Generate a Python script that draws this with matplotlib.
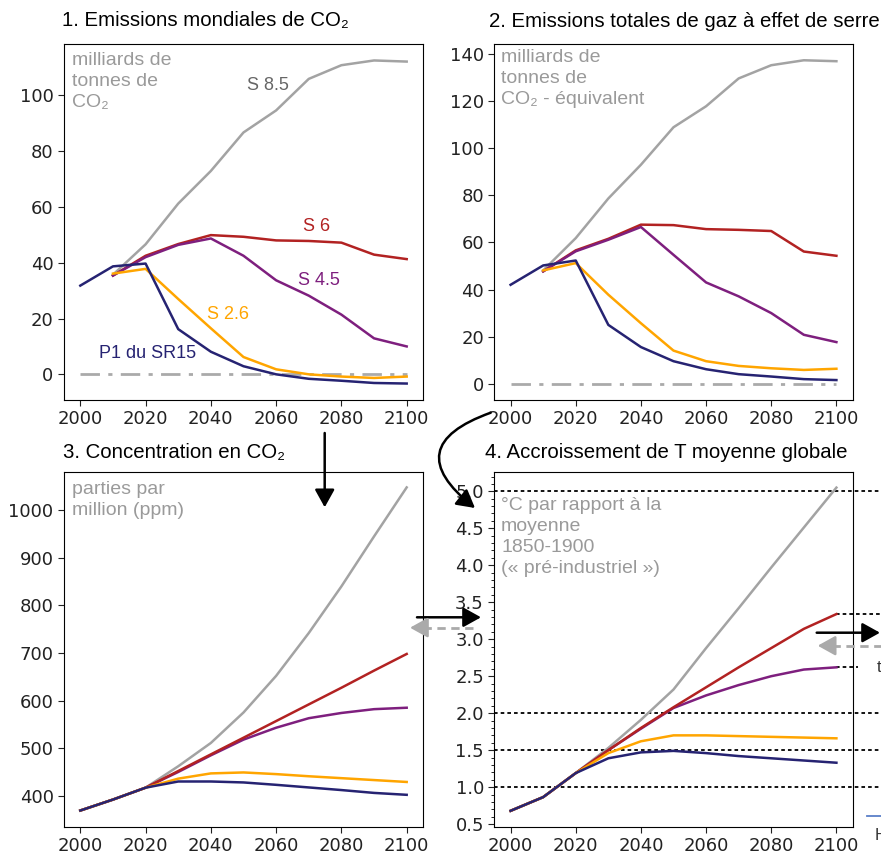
"""Scénarios d'émissions, concentration en CO2 et réchauffement : 4 panneaux."""

import matplotlib

matplotlib.use("Agg")
import matplotlib.pyplot as plt
from matplotlib.lines import Line2D
from matplotlib.patches import FancyArrowPatch
from matplotlib.ticker import MultipleLocator


W, H = 881, 857
SANS = ["Liberation Sans", "DejaVu Sans"]
plt.rcParams["font.family"] = ["DejaVu Sans"]

years = [2000, 2010, 2020, 2030, 2040, 2050, 2060, 2070, 2080, 2090, 2100]
years_scen = years[1:]

# 1. émissions de CO2 (GtCO2)
co2_p1 = [31.8, 38.7, 39.7, 16.2, 8.1, 2.9, 0.0, -1.6, -2.3, -3.1, -3.3]
co2_s26 = [36.1, 37.8, 27.0, 16.5, 6.2, 1.8, 0.0, -0.8, -1.3, -0.8]
co2_s45 = [35.4, 42.0, 46.4, 48.7, 42.5, 33.7, 28.2, 21.4, 12.9, 10.0]
co2_s6 = [35.4, 42.5, 46.7, 49.9, 49.3, 48.0, 47.8, 47.2, 42.9, 41.3]
co2_s85 = [35.7, 46.6, 61.2, 72.9, 86.7, 94.6, 105.9, 110.8, 112.5, 112.1]

# 2. émissions totales de GES (GtCO2-eq)
ghg_p1 = [42.0, 50.2, 52.3, 25.0, 15.6, 9.6, 6.2, 4.1, 3.1, 2.0, 1.6]
ghg_s26 = [48.1, 51.2, 37.8, 25.7, 14.1, 9.6, 7.6, 6.6, 5.9, 6.4]
ghg_s45 = [47.7, 56.2, 61.1, 66.5, 54.7, 43.0, 37.1, 30.0, 20.8, 17.7]
ghg_s6 = [47.7, 56.6, 61.5, 67.5, 67.3, 65.6, 65.3, 64.8, 56.1, 54.3]
ghg_s85 = [48.1, 61.8, 78.6, 92.9, 108.8, 117.7, 129.5, 135.1, 137.2, 136.8]

# 3. concentration en CO2 (ppm)
ppm_p1 = [369, 392, 417, 430, 430, 428, 423, 417.5, 412, 406, 402]
ppm_s26 = [369, 392, 417, 436, 447, 449, 445.5, 441, 437, 433, 429]
ppm_s45 = [369, 392, 417, 450, 485, 518, 543, 563, 574, 582, 585]
ppm_s6 = [369, 392, 417, 452, 487, 522, 557, 592, 627, 663, 698]
ppm_s85 = [369, 392, 417, 462, 511, 575, 652, 742, 840, 945, 1048]

# 4. réchauffement (°C / 1850-1900)
t_p1 = [0.68, 0.865, 1.19, 1.39, 1.47, 1.49, 1.46, 1.42, 1.39, 1.36, 1.33]
t_s26 = [0.68, 0.865, 1.19, 1.46, 1.62, 1.70, 1.70, 1.69, 1.68, 1.67, 1.66]
t_s45 = [0.68, 0.865, 1.19, 1.50, 1.79, 2.07, 2.24, 2.38, 2.50, 2.59, 2.62]
t_s6 = [0.68, 0.865, 1.19, 1.50, 1.80, 2.08, 2.35, 2.62, 2.88, 3.14, 3.34]
t_s85 = [0.68, 0.865, 1.19, 1.53, 1.91, 2.32, 2.88, 3.42, 3.97, 4.51, 5.05]
t_levels = [1.0, 1.5, 2.0, 5.0]

C_P1 = "#262372"
C_S26 = "#ffa500"
C_S45 = "#7e1f7e"
C_S6 = "#b22222"
C_S85 = "#a3a3a3"
C_UNIT = "#9a9a9a"
LW = 1.8


def fx(px):
    return px / W


def fy(py):
    return 1 - py / H


def style_axis(ax, ylim, yticks):
    ax.set_xlim(1995, 2105)
    ax.set_ylim(*ylim)
    ax.set_xticks(range(2000, 2101, 20))
    ax.set_yticks(yticks)
    ax.tick_params(labelsize=13, colors="#222222", length=4)


def unit_text(ax, x, y, txt):
    ax.text(x, y, txt, transform=ax.transAxes, ha="left", va="top", fontsize=14,
            color=C_UNIT, family=SANS, linespacing=1.32)


fig = plt.figure(figsize=(W / 100, H / 100), dpi=100)
ax1 = fig.add_axes([fx(64), fy(400), fx(359), 356 / H])
ax2 = fig.add_axes([fx(494.3), fy(400), fx(358.4), 356 / H])
ax3 = fig.add_axes([fx(64), fy(826.7), fx(359), 355 / H])
ax4 = fig.add_axes([fx(494.3), fy(826.7), fx(358.4), 355 / H])

# panneau 1
ax1.plot([2000, 2100], [0, 0], color="#aaaaaa", lw=2, ls="-.", dashes=(7, 3, 1.5, 3))
ax1.plot(years_scen, co2_s85, color=C_S85, lw=LW)
ax1.plot(years_scen, co2_s6, color=C_S6, lw=LW)
ax1.plot(years_scen, co2_s45, color=C_S45, lw=LW)
ax1.plot(years_scen, co2_s26, color=C_S26, lw=LW)
ax1.plot(years, co2_p1, color=C_P1, lw=LW)
style_axis(ax1, (-9.2, 118.4), range(0, 101, 20))
unit_text(ax1, 0.021, 0.978, "milliards de\ntonnes de\nCO₂")
ax1.text(2051, 103.5, "S 8.5", color="#666666", fontsize=13, va="center", family=SANS)
ax1.text(2068.3, 52.9, "S 6", color=C_S6, fontsize=13, va="center", family=SANS)
ax1.text(2066.8, 33.6, "S 4.5", color=C_S45, fontsize=13, va="center", family=SANS)
ax1.text(2038.8, 21.4, "S 2.6", color=C_S26, fontsize=13, va="center", family=SANS)
ax1.text(2005.8, 7.4, "P1 du SR15", color=C_P1, fontsize=13, va="center", family=SANS)

# panneau 2
ax2.plot([2000, 2100], [0, 0], color="#aaaaaa", lw=2, ls="-.", dashes=(7, 3, 1.5, 3))
ax2.plot(years_scen, ghg_s85, color=C_S85, lw=LW)
ax2.plot(years_scen, ghg_s6, color=C_S6, lw=LW)
ax2.plot(years_scen, ghg_s45, color=C_S45, lw=LW)
ax2.plot(years_scen, ghg_s26, color=C_S26, lw=LW)
ax2.plot(years, ghg_p1, color=C_P1, lw=LW)
style_axis(ax2, (-6.85, 144.1), range(0, 141, 20))
unit_text(ax2, 0.019, 0.986, "milliards de\ntonnes de\nCO₂ - équivalent")

# panneau 3
ax3.plot(years, ppm_s85, color=C_S85, lw=LW)
ax3.plot(years, ppm_s45, color=C_S45, lw=LW)
ax3.plot(years, ppm_s6, color=C_S6, lw=LW)
ax3.plot(years, ppm_s26, color=C_S26, lw=LW)
ax3.plot(years, ppm_p1, color=C_P1, lw=LW)
style_axis(ax3, (335, 1081), range(400, 1001, 100))
unit_text(ax3, 0.021, 0.975, "parties par\nmillion (ppm)")

# panneau 4
dot = dict(color="black", lw=1.3, ls=(0, (2, 1.7)), clip_on=False)
for lev in t_levels:
    ax4.plot([1995, 2135], [lev, lev], **dot)
ax4.plot([2100, 2135], [t_s6[-1], t_s6[-1]], **dot)
ax4.plot([2100, 2106.7], [t_s45[-1], t_s45[-1]], **dot)
ax4.plot(years, t_s85, color=C_S85, lw=LW)
ax4.plot(years, t_s45, color=C_S45, lw=LW)
ax4.plot(years, t_s6, color=C_S6, lw=LW)
ax4.plot(years, t_s26, color=C_S26, lw=LW)
ax4.plot(years, t_p1, color=C_P1, lw=LW)
style_axis(ax4, (0.465, 5.265), [0.5 * k for k in range(1, 11)])
ax4.yaxis.set_minor_locator(MultipleLocator(0.1))
ax4.tick_params(axis="y", which="minor", length=2.5)
unit_text(ax4, 0.019, 0.93, "°C par rapport à la\nmoyenne\n1850-1900\n(« pré-industriel »)")

# titres
titles = [
    (62, 26, "1. Emissions mondiales de CO₂"),
    (489, 27, "2. Emissions totales de gaz à effet de serre"),
    (63, 458, "3. Concentration en CO₂"),
    (485, 458, "4. Accroissement de T moyenne globale"),
]
for px, py, txt in titles:
    fig.text(fx(px), fy(py), txt, fontsize=14.7, family=SANS, va="baseline", ha="left")


# flèches entre les panneaux
def arrow(p0, p1, color="black", rad=0.0, hl=0.9, hw=0.5):
    fig.patches.append(FancyArrowPatch(
        (fx(p0[0]), fy(p0[1])), (fx(p1[0]), fy(p1[1])), transform=fig.transFigure,
        arrowstyle=f"-|>,head_length={hl},head_width={hw}", mutation_scale=12,
        connectionstyle=f"arc3,rad={rad}", color=color, lw=1.8,
        shrinkA=0, shrinkB=0, clip_on=False))


def dashed_arrow(x0, x1, y):
    fig.lines.append(Line2D([fx(x0), fx(x1 + 10)], [fy(y), fy(y)], transform=fig.transFigure,
                            color="#aaaaaa", lw=2, ls=(0, (3, 2))))
    arrow((x1 + 12, y), (x1, y), color="#aaaaaa")


arrow((324.7, 433), (324.7, 507.3))
arrow((490.7, 412.7), (475, 508), rad=0.9)
arrow((417, 617.3), (481, 617.3))
dashed_arrow(473, 410, 627.7)
arrow((816.7, 632.7), (880, 632.7))
dashed_arrow(885, 817.7, 645.7)

# fragments de la figure voisine, coupés au bord
fig.lines.append(Line2D([fx(866.7), fx(885)], [fy(815.7), fy(815.7)],
                        transform=fig.transFigure, color="#5b7fc8", lw=1.3))
fig.text(fx(876.5), fy(667.7), "t", fontsize=12, family=SANS, va="center", color="#333333")
fig.text(fx(875), fy(835), "H", fontsize=12, family=SANS, va="center", color="#333333")

fig.savefig("out.png", dpi=100)
